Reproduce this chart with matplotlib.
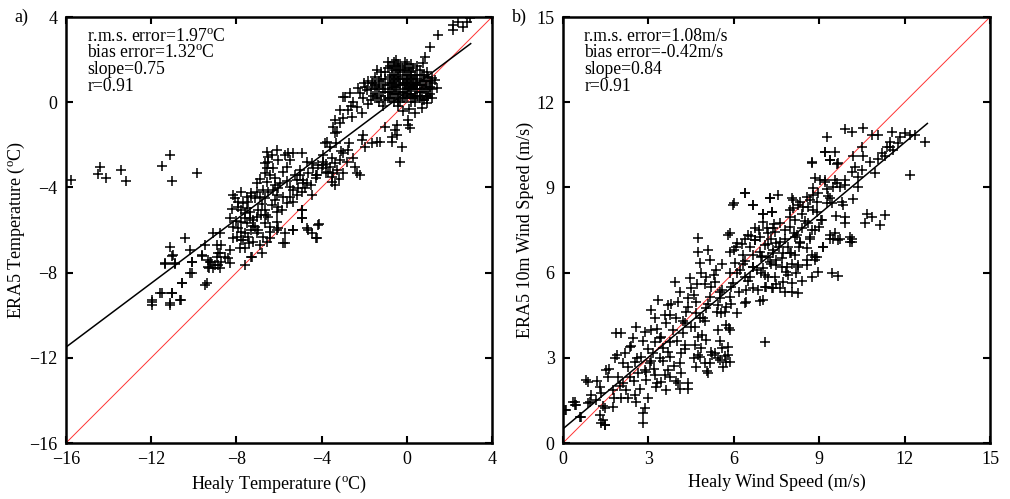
import numpy as np
import matplotlib
matplotlib.use("Agg")
import matplotlib.pyplot as plt

plt.rcParams['font.family'] = ['Liberation Serif', 'DejaVu Serif']
plt.rcParams['mathtext.fontset'] = 'custom'
plt.rcParams['mathtext.rm'] = 'Liberation Serif'
plt.rcParams['mathtext.it'] = 'Liberation Serif:italic'

# panel a: air temperature (Healy vs ERA5)
healy_t = [
    -15.77, -14.4, -14.5, -14.1, -13.4, -13.2, -11.5, -11.1, -11.0, -9.85,
    -11.97, -11.97, -11.5, -11.0, -11.1, -10.6, -10.56, -10.1, -10.1, -9.4,
    -11.35, -11.0, -10.9, -9.6, -9.24, -9.0, -8.77, -8.3, -7.6, -7.27,
    -6.8, -9.3, -8.85,
    -10.42, -11.12, -10.96, -11.36, -10.89, -10.18, -10.1, -10.18, -10.57, -9.48,
    -11.6, -11.04, -11.12, -10.65, -11.98,
    -9.63, -9.48, -9.32, -9.17, -9.32, -9.09, -8.85, -8.7, -8.93, -8.54,
    -8.38, -8.77, -8.93, -8.7, -9.09, -8.77, -8.3, -8.15, -8.3, -8.15,
    -7.91, -7.99, -7.76, -7.83, -7.6, -7.68, -7.44, -7.6, -7.29, -7.52,
    -7.76, -7.6, -7.37, -7.21, -7.76, -7.52, -7.37, -7.68, -7.44, -7.91,
    -8.07, -8.15, -7.76, -7.52, -7.29, -7.05, -7.05, -7.13, -6.9, -6.97,
    -6.82, -7.05, -7.13, -7.05, -6.74, -7.21, -7.29, -6.9, -6.58, -6.43,
    -6.66, -6.5, -6.66, -6.35, -6.11, -6.04, -6.19, -6.66, -6.5, -6.74,
    -6.27, -6.11, -5.8, -5.64, -5.88, -5.49, -5.33, -5.17, -5.33, -5.1,
    -4.94, -4.78, -4.7, -4.86, -4.47, -4.94, -4.94, -5.33, -5.72, -5.8,
    -6.04, -6.11, -4.7, -4.47, -4.24, -4.16,
    -6.58, -6.5, -6.35, -6.11, -6.66, -6.5, -6.58, -6.27, -6.66, -6.43,
    -6.19, -6.58, -5.96, -5.72, -5.57, -5.33, -5.49, -5.64, -5.8, -6.04,
    -4.94, -5.25, -5.17, -5.02, -4.7, -4.47, -4.39, -4.24, -4.16, -4.0,
    -3.92, -3.92, -3.77, -3.61, -3.84, -3.37, -3.37, -3.3, -3.45, -3.53,
    -3.37, -4.24, -4.63, -4.86, -5.49, -6.04,
    -4.93, -4.93, -4.12, -4.64, -4.22, -5.34, -5.72, -6.1, -6.42,
    -3.7, -3.5, -3.2, -3.0,
    -3.76, -3.61, -2.98, -3.14, -2.82, -2.51, -2.75, -2.04, -1.96, -1.65,
    -1.41, -1.26, -2.12, -2.35, -2.2, -2.43, -3.92, -3.29,
    -1.02, -0.71, -0.55, -0.48, -0.48, -0.24, -0.32, 0.07, 0.07, 0.15,
    0.39, 0.70, 0.93, 0.93, 1.4, 1.17, 1.32, -0.71,
    2.19, 2.19, 2.42, 2.65, 2.81, 2.97, 1.48, 1.09, 0.855, 0.78, 0.93,
    -2.9, -2.67, -2.51, -2.2, -1.88, -1.65, -2.04, -2.35, -2.75, -2.59,
    -3.14, -3.37, -3.14, -2.98, -3.45, -3.29, -2.3, -1.96, -2.6, -1.8,
    -2.1, -1.7, -3.0,
    -1.6, -1.5, -1.4, -1.3, -1.2, -1.2, -1.1, -1.0, -1.0, -0.9,
    -0.9, -0.8, -0.8, -0.7, -0.7, -0.6, -0.6, -0.6, -0.5, -0.5,
    -0.4, -0.4, -0.4, -0.3, -0.3, -0.2, -0.2, -0.1, -0.1, 0.0,
    0.0, 0.0, 0.1, 0.1, 0.2, 0.2, 0.3, 0.3, 0.4, 0.4,
    0.5, 0.5, 0.6, 0.6, 0.7, 0.8, 0.8, 0.9, 1.0, 1.1,
    1.2, -1.5, -1.3, -1.1, -0.9, -0.8, -0.5, -0.3, -0.2, 0.0,
    0.1, 0.2, 0.3, 0.4, 0.6, 0.7, 0.9, 1.0, -0.7, -0.4,
    -0.1, -1.7, -1.4, -0.2, 0.5, -0.6, 0.2, -1.0, -0.3, 1.1,
    -1.4, -1.3, -1.2, -1.1, -1.0, -0.9, -0.9, -0.8, -0.8, -0.7,
    -0.7, -0.6, -0.6, -0.5, -0.5, -0.4, -0.4, -0.3, -0.3, -0.2,
    -0.2, -0.1, -0.1, 0.0, 0.0, 0.1, 0.1, 0.2, 0.2, 0.3,
    0.3, 0.4, 0.4, 0.5, 0.5, 0.6, 0.6, 0.7, 0.7, 0.8,
    0.8, 0.9, 1.0, 1.1, 1.2, 1.2, -1.6, -1.5, -1.8, -2.0,
    -0.6, -0.4, -0.1, 0.2, 0.5,
    -8.2, -8.0, -7.8, -7.6, -7.4, -7.2, -7.0, -6.8, -6.6, -6.4,
    -7.9, -7.3, -6.9, -6.2, -5.6, -5.0, -4.5, -4.2, -3.8, -3.5,
    -3.1, -2.7,
]
era5_t = [
    -3.65, -3.04, -3.37, -3.56, -3.2, -3.7, -3.0, -2.5, -3.7, -3.3,
    -9.3, -9.5, -8.96, -8.96, -9.5, -9.3, -8.5, -8.0, -7.5, -8.5,
    -7.6, -7.2, -7.6, -7.2, -7.5, -7.64, -7.8, -7.55, -7.64, -7.27,
    -7.1, -7.8, -7.1,
    -6.39, -6.78, -7.17, -7.57, -7.57, -6.94, -7.49, -8.03, -8.5, -8.58,
    -8.97, -8.97, -9.44, -9.29, -9.36,
    -7.17, -6.7, -7.41, -7.49, -7.72, -7.8, -7.64, -7.49, -7.25, -7.25,
    -7.33, -7.1, -6.7, -6.7, -6.16, -6.16, -6.94, -6.39, -5.45, -5.84,
    -5.92, -6.31, -6.47, -6.86, -6.86, -6.47, -6.31, -6.16, -6.0, -5.69,
    -5.61, -5.45, -5.45, -5.53, -5.06, -4.98, -5.14, -4.75, -4.67, -4.67,
    -4.51, -4.36, -4.2, -4.44, -4.28, -4.2, -3.81, -4.51, -4.44, -5.06,
    -5.3, -5.37, -5.84, -6.16, -6.31, -6.55, -7.25, -6.7, -6.55, -5.84,
    -5.69, -5.37, -5.06, -4.83, -5.14, -4.91, -4.59, -4.51, -4.2, -4.12,
    -4.12, -4.36, -4.44, -4.75, -5.06, -4.44, -4.67, -4.36, -4.12, -4.04,
    -4.2, -4.04, -3.81, -3.81, -4.36, -5.06, -5.45, -6.0, -6.16, -6.63,
    -5.92, -5.61, -5.92, -6.16, -6.39, -5.76,
    -2.32, -2.56, -2.48, -2.24, -2.87, -2.79, -3.1, -3.1, -3.34, -3.42,
    -3.57, -3.73, -3.81, -2.48, -2.4, -2.4, -2.71, -3.03, -3.26, -2.71,
    -2.4, -3.42, -3.65, -3.42, -2.79, -2.87, -3.1, -3.42, -2.95, -3.1,
    -2.79, -2.48, -3.34, -3.03, -1.93, -2.87, -1.46, -1.93, -3.34, -3.73,
    -3.89, -3.57, -3.34, -3.65, -3.97, -4.04,
    -5.06, -5.44, -5.72, -6.0, -6.38, -6.0, -6.61, -6.0, -6.38,
    -3.28, -3.5, -3.6, -3.3,
    -1.85, -2.09, -2.4, -2.71, -2.79, -2.63, -2.24, -1.54, -2.09, -1.93,
    -1.85, -1.85, -1.77, -3.34, -3.42, -3.03, -2.95, -3.18,
    -1.15, -1.85, -1.3, -1.07, -1.54, -2.09, -2.79, -0.83, -1.07, -1.23,
    -0.52, -0.29, -0.05, 0.18, 0.65, 1.12, 1.04, -1.62,
    3.63, 3.39, 3.78, 3.55, 3.78, 3.94, 3.16, 2.61, 2.14, 1.83, 1.43,
    0.26, 0.42, 0.03, 0.42, 0.57, 0.89, 0.18, -0.21, -0.36, -0.68,
    -0.36, -0.83, -0.99, -0.76, -1.15, -1.38, 0.67, 0.71, -0.2, -0.1,
    -0.5, 0.1, 0.24,
    0.9, 1.2, 0.6, 1.0, 0.3, 1.4, 0.8, 0.1, 1.1, 0.5,
    1.6, 0.9, 0.2, 1.3, 0.6, 1.9, 1.0, 0.0, 0.4, 1.5,
    0.8, 1.2, -0.2, 0.5, 1.7, 0.9, 0.2, 1.3, 0.6, 1.0,
    0.3, 1.8, 0.7, -0.3, 1.2, 0.4, 0.9, 1.6, 0.6, 0.0,
    1.1, 0.3, 0.8, 1.5, 0.5, 1.0, 0.1, 0.7, 1.2, 0.4,
    0.9, 0.4, 0.0, -0.2, 1.9, 1.7, 2.0, 0.0, 1.5, 0.6,
    1.5, 0.0, 0.2, 1.3, 0.2, 1.3, 0.3, 0.6, 0.2, 0.4,
    0.2, 0.6, 1.5, -0.4, 0.8, 0.7, 0.8, 0.6, 1.1, 1.0,
    0.2, 0.7, 1.1, 0.5, 1.4, 0.2, 0.8, 1.2, 0.5, 0.9,
    1.6, 0.4, 1.3, 0.7, 1.1, 0.1, 1.5, 0.8, 1.4, 0.5,
    1.1, 0.9, 1.6, 0.8, 1.3, 0.4, 1.1, 0.6, 1.4, 0.7,
    1.1, 0.9, 0.3, 0.6, 1.3, 1.0, 0.5, 0.8, 0.1, 0.6,
    1.3, 1.0, 0.3, 0.7, 0.2, 0.6, 0.3, 0.8, 1.0, 0.9,
    1.7, 1.8, 1.9, 1.8, 1.7,
    -5.0, -5.6, -6.1, -5.2, -6.6, -5.8, -6.0, -4.8, -5.3, -6.1,
    -4.9, -4.4, -3.6, -3.9, -3.7, -3.2, -3.9, -3.4, -2.9, -2.6,
    -2.3, -1.9,
]

# panel b: 10 m wind speed (Healy vs ERA5)
healy_ws = [
    9.9, 10.14, 10.55, 10.84, 11.07, 11.54, 11.83, 12.19, 12.36, 12.72,
    12.19, 11.37, 11.48, 11.6, 11.78, 11.31, 11.07, 10.49, 10.55, 10.2,
    10.26, 10.14, 10.37, 10.96, 10.37, 9.9, 9.67, 9.55, 9.26, 9.2,
    9.38, 9.55, 9.5, 9.2, 9.02, 8.97, 8.79, 8.73, 8.91, 8.56,
    8.44, 8.26, 8.09, 7.97, 7.56, 7.27, 7.03, 7.33, 6.69, 6.4,
    5.99, 9.26, 9.44, 9.79, 9.85, 9.9, 10.67, 10.84, 11.31, 11.13,
    10.61, 9.9, 9.55, 9.08, 8.85, 8.67, 8.32, 8.15, 9.38, 9.67,
    10.14, 10.08, 9.14,
    5.98, 6.39, 6.69, 7.04, 7.27, 7.33, 7.04, 6.74, 7.39, 7.62,
    7.8, 8.03, 8.09, 7.97, 8.33, 8.38, 8.68, 8.62, 8.79, 8.74,
    8.85, 9.2, 9.38, 9.61, 9.2, 9.26, 9.38, 9.61, 9.73, 8.91,
    9.09, 8.62, 8.74, 9.38,
    5.87, 6.1, 6.39, 6.57, 6.74, 6.92, 7.1, 7.21, 7.39, 7.5,
    7.62, 7.74, 7.92, 8.03, 8.21, 8.33, 8.56, 8.74, 8.91, 9.14,
    9.5, 9.73, 10.08, 10.14, 8.15, 8.38, 8.68, 6.33, 6.69, 7.04,
    7.86, 8.27, 8.56, 8.85, 7.45, 7.97, 7.15,
    0.12, 0.41, 0.47, 0.88, 0.64, 0.88, 0.94, 1.17, 1.29, 1.35,
    1.46, 1.29, 1.41, 1.46, 1.52, 1.58, 1.76, 1.81, 1.87, 2.05,
    1.93, 2.11, 2.05, 1.76, 2.22, 2.34, 2.28, 2.17, 2.34, 2.46,
    2.58, 2.52, 2.63, 2.52, 2.58, 2.81, 2.87, 2.81, 2.93, 2.87,
    2.75, 2.87, 3.1, 3.22, 3.34, 3.1, 3.22, 3.16, 3.04, 3.22,
    3.28, 3.45, 3.4, 3.51, 3.45, 3.63, 3.75, 3.69, 3.92, 4.04,
    3.98, 3.86, 3.75, 3.75, 3.69, 3.75, 3.63, 4.04, 4.16, 4.1,
    4.16, 4.27, 4.22, 4.27, 4.33, 4.39, 4.45, 4.51, 4.68, 4.68,
    4.63, 4.74, 4.63, 4.8, 4.68, 4.39, 4.86, 5.04, 5.15, 5.09,
    5.33, 5.5, 5.62, 5.74, 5.8, 5.85, 4.92, 5.04, 5.15, 5.21,
    5.04, 4.86, 4.8, 4.74, 4.74, 5.09, 5.15, 5.39, 5.33, 5.5,
    5.44, 5.56, 5.74, 5.85, 5.74, 5.85, 5.97, 5.85, 6.03, 5.85,
    5.8, 6.09, 6.32, 6.21, 6.38, 6.44, 6.44, 6.56, 6.67, 6.67,
    6.73, 6.97, 6.97, 7.03, 7.08, 7.14, 7.26, 7.38, 7.44, 7.38,
    7.49, 7.2, 6.91, 6.5, 7.32,
    8.73, 8.97, 9.44, 9.67, 8.27, 8.03, 7.8, 7.62, 8.03, 7.74,
    7.33, 7.09, 6.85, 6.68, 6.91, 6.4, 6.11, 5.82, 5.46, 5.58,
    5.7, 5.46, 5.23, 5.05, 4.99, 4.76, 4.4, 4.1, 3.98,
    8.27, 8.56, 8.85, 7.85, 7.5, 7.21, 8.15, 7.97, 7.68,
    0.07, 0.36, 0.41, 0.59, 0.82, 1.35, 1.46,
    4.2, 4.4, 4.6, 4.8, 5.0, 5.1, 5.3, 5.5, 5.6, 5.7,
    5.9, 6.0, 6.1, 6.2, 6.3, 6.4, 6.5, 6.6, 6.8, 6.9,
    7.0, 7.1, 7.2, 7.3, 7.4, 7.5, 7.6, 7.7, 7.8, 7.9,
    8.0, 8.1, 8.2, 8.3, 8.4,
    3.0, 3.2, 3.3, 3.5, 3.6, 3.7, 3.8, 3.9, 4.0, 4.1,
    4.3, 4.5, 4.6, 4.7, 4.9, 5.0, 5.2, 5.4, 5.5, 5.6,
    5.8, 5.9,
    1.0, 1.2, 1.4, 1.6, 1.8, 1.9, 2.0, 2.1, 2.3, 2.4,
    2.5, 2.6, 2.7, 2.8, 2.9, 3.0, 3.1, 3.3, 3.4, 3.6,
    8.5, 8.8, 9.0, 9.3, 9.6, 9.9, 10.2, 10.5, 10.8, 11.2,
    11.5, 12.0,
]
era5_ws = [
    11.05, 10.96, 11.08, 10.85, 10.85, 10.96, 10.79, 10.85, 10.85, 10.61,
    9.44, 10.44, 10.44, 10.32, 10.56, 10.1, 10.0, 10.44, 10.1, 10.1,
    9.73, 9.55, 9.37, 9.49, 9.02, 9.26, 9.85, 10.26, 10.79, 10.26,
    9.97, 9.26, 9.02, 9.26, 9.26, 8.79, 8.97, 9.85, 8.49, 8.67,
    8.32, 8.38, 8.55, 8.2, 8.73, 8.61, 8.08, 8.14, 8.38, 8.79,
    8.44, 8.44, 8.44, 8.49, 8.38, 7.97, 8.08, 7.97, 8.03, 7.67,
    7.73, 7.73, 7.38, 7.85, 7.5, 7.2, 7.08, 7.26, 7.2, 7.14,
    7.2, 7.08, 6.9,
    8.38, 8.81, 8.38, 8.08, 8.61, 8.14, 7.79, 7.56, 7.56, 7.73,
    7.5, 8.61, 8.26, 7.97, 8.49, 8.08, 8.55, 8.32, 8.73, 9.9,
    9.32, 10.26, 9.96, 9.84, 9.2, 8.96, 8.61, 9.14, 9.02, 8.14,
    7.85, 7.73, 7.5, 7.32,
    7.38, 7.03, 7.2, 6.91, 7.15, 6.73, 6.97, 6.56, 6.79, 6.44,
    7.09, 6.68, 6.91, 6.32, 7.32, 7.03, 6.85, 6.62, 6.56, 6.91,
    7.2, 7.2, 7.26, 7.09, 7.85, 7.56, 7.26, 6.32, 6.21, 6.15,
    6.21, 6.21, 6.27, 6.44, 7.44, 7.61, 7.56,
    1.16, 1.46, 1.34, 2.16, 0.93, 1.4, 1.46, 1.51, 1.98, 1.75,
    1.22, 0.99, 0.81, 0.63, 2.57, 2.34, 1.87, 2.98, 3.86, 3.86,
    2.34, 2.1, 1.57, 1.28, 1.87, 2.34, 2.69, 3.16, 3.39, 3.69,
    4.1, 2.86, 2.45, 1.69, 1.46, 1.04, 1.22, 0.69, 2.22, 2.57,
    3.04, 3.92, 4.68, 4.39, 5.04, 3.98, 3.57, 3.16, 2.81, 2.39,
    1.98, 2.16, 2.98, 3.33, 3.74, 4.21, 4.51, 4.86, 5.68, 4.98,
    4.39, 3.98, 3.57, 3.04, 2.57, 2.34, 1.87, 2.1, 2.45, 2.81,
    3.16, 3.45, 3.86, 4.21, 4.62, 5.09, 5.8, 5.45, 4.98, 4.57,
    4.1, 3.74, 3.45, 3.04, 2.69, 2.1, 3.33, 3.63, 2.81, 2.45,
    3.16, 2.92, 2.69, 2.86, 3.39, 2.86, 4.39, 4.74, 5.15, 5.5,
    5.86, 5.97, 6.33, 6.74, 7.21, 6.8, 6.44, 6.09, 5.68, 5.33,
    4.86, 4.57, 4.15, 3.98, 4.8, 5.15, 5.62, 5.97, 6.33, 6.74,
    7.32, 6.91, 6.62, 6.09, 5.86, 5.39, 4.98, 5.86, 6.21, 6.62,
    7.15, 6.56, 5.97, 5.04, 3.57, 5.5, 6.39, 6.68, 5.86, 5.45,
    7.03, 7.38, 7.27, 7.32, 7.2,
    5.86, 6.03, 5.98, 5.88, 5.27, 5.33, 5.33, 5.45, 5.63, 5.68,
    5.45, 5.51, 5.39, 5.45, 4.99, 4.93, 4.58, 4.05, 3.99, 3.35,
    3.05, 2.99, 3.11, 2.52, 2.82, 3.11, 1.91, 1.91, 2.2,
    6.27, 6.44, 6.56, 6.03, 6.27, 5.86, 6.62, 6.68, 6.51,
    1.16, 1.46, 1.34, 0.92, 2.23, 0.69, 0.63,
    4.3, 4.8, 5.2, 4.4, 5.6, 4.9, 5.9, 5.1, 6.3, 4.6,
    5.5, 6.8, 6.0, 5.3, 7.0, 6.4, 5.7, 7.3, 6.1, 7.5,
    6.6, 5.9, 7.0, 6.3, 7.7, 5.6, 6.9, 6.2, 7.2, 5.9,
    6.7, 7.4, 6.0, 6.9, 5.7,
    3.3, 2.6, 4.0, 2.9, 4.5, 3.2, 4.9, 2.7, 3.6, 5.3,
    3.3, 4.1, 3.0, 5.6, 3.8, 4.3, 3.2, 4.6, 3.6, 5.4,
    3.1, 4.9,
    1.7, 2.2, 1.3, 2.6, 1.6, 3.1, 2.0, 2.8, 1.6, 3.4,
    2.2, 3.0, 1.9, 3.6, 2.5, 1.6, 2.9, 2.1, 3.7, 2.4,
    7.8, 8.2, 7.6, 8.7, 8.0, 9.1, 8.6, 9.6, 9.9, 10.2,
    10.6, 10.9,
]

# fitted lines: slope, intercept, x extent
fit_t = (0.75, 0.5, -16.0, 3.0)
fit_ws = (0.84, 0.5, 0.0, 12.8)

stats_t = "r.m.s. error=1.97$^{\\rm o}$C\nbias error=1.32$^{\\rm o}$C\nslope=0.75\nr=0.91"
stats_ws = "r.m.s. error=1.08m/s\nbias error=-0.42m/s\nslope=0.84\nr=0.91"

fig = plt.figure(figsize=(10.1, 4.99), dpi=100)
ax1 = fig.add_axes([0.0653, 0.1122, 0.4218, 0.8537])
ax2 = fig.add_axes([0.5574, 0.1122, 0.4228, 0.8537])


def panel(ax, x, y, fit, lim, ticks, stats, xlabel, ylabel, tag):
    ax.plot(lim, lim, color='#ff3333', lw=0.7, zorder=1)
    ax.plot(x, y, '+', color='black', ms=6.5, mew=1.1, zorder=2)
    s, b, x0, x1 = fit
    fx = np.array([x0, x1])
    ax.plot(fx, s * fx + b, color='black', lw=1.1, zorder=3)
    ax.set_xlim(lim)
    ax.set_ylim(lim)
    ax.set_xticks(ticks)
    ax.set_yticks(ticks)
    ax.tick_params(direction='in', top=True, right=True, length=5, width=1.5,
                   labelsize=13, pad=6)
    for sp in ax.spines.values():
        sp.set_linewidth(1.8)
    ax.set_xlabel(xlabel, fontsize=13, labelpad=4)
    ax.set_ylabel(ylabel, fontsize=13, labelpad=2)
    ax.text(0.05, 0.975, stats, transform=ax.transAxes, va='top', ha='left',
            fontsize=12.7, linespacing=0.98)
    ax.text(-0.12, 1.0, tag, transform=ax.transAxes, va='center', ha='left',
            fontsize=13)


panel(ax1, healy_t, era5_t, fit_t, [-16, 4], [-16, -12, -8, -4, 0, 4], stats_t,
      "Healy Temperature ($^{\\rm o}$C)", "ERA5 Temperature ($^{\\rm o}$C)", "a)")
panel(ax2, healy_ws, era5_ws, fit_ws, [0, 15], [0, 3, 6, 9, 12, 15], stats_ws,
      "Healy Wind Speed (m/s)", "ERA5 10m Wind Speed (m/s)", "b)")

fig.savefig("out.png", dpi=100)
